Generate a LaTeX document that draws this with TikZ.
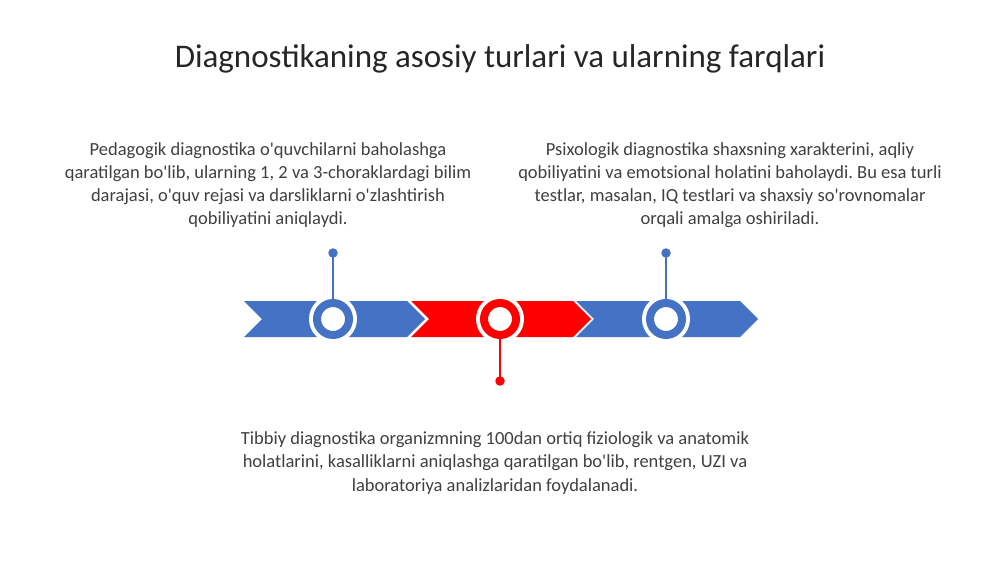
\documentclass[tikz,border=0pt]{standalone}
\usepackage{fontspec}
\setmainfont{Carlito}[Ligatures=TeXOff]
\frenchspacing
\definecolor{tlblue}{HTML}{4472C4}
\definecolor{tlred}{HTML}{FF0000}
\definecolor{txtgray}{HTML}{404040}
\definecolor{titlegray}{HTML}{262626}
\begin{document}
\begin{tikzpicture}[x=1pt,y=-1pt,
  body/.style={align=center, text=txtgray, inner sep=0pt, font=\fontsize{18.5}{23.2}\selectfont\frenchspacing},
  ringbase/.style={circle, fill=white, minimum size=48pt, inner sep=0pt},
  ring/.style={circle, draw=#1, line width=8pt, fill=white, minimum size=32pt, inner sep=0pt},
  dot/.style={circle, fill=#1, minimum size=9.5pt, inner sep=0pt},
  stem/.style={draw=#1, line width=2pt}
]
\useasboundingbox (0,0) rectangle (1000,562);
\fill[white] (0,0) rectangle (1000,562);

% title
\node[text=titlegray, inner sep=0pt, font=\fontsize{33}{40}\selectfont] (title) at (500,59) {Diagnostikaning asosiy turlari va ularning farqlari};

% texts
\node[body] (t1) at (268,185) {Pedagogik diagnostika o'quvchilarni baholashga\\qaratilgan bo'lib, ularning 1, 2 va 3-choraklardagi bilim\\darajasi, o'quv rejasi va darsliklarni o'zlashtirish\\qobiliyatini aniqlaydi.};
\node[body] (t2) at (730,185) {Psixologik diagnostika shaxsning xarakterini, aqliy\\qobiliyatini va emotsional holatini baholaydi. Bu esa turli\\testlar, masalan, IQ testlari va shaxsiy so'rovnomalar\\orqali amalga oshiriladi.};
\node[body] (t3) at (495,463) {Tibbiy diagnostika organizmning 100dan ortiq fiziologik va anatomik\\holatlarini, kasalliklarni aniqlashga qaratilgan bo'lib, rentgen, UZI va\\laboratoriya analizlaridan foydalanadi.};

% chevron band
\fill[tlblue] (244,301) -- (407,301) -- (425,319) -- (407,337) -- (244,337) -- (262,319) -- cycle;
\fill[tlred] (411,301) -- (573,301) -- (591,319) -- (573,337) -- (411,337) -- (429,319) -- cycle;
\fill[tlblue] (576,301) -- (740,301) -- (758,319) -- (740,337) -- (576,337) -- (594,319) -- cycle;

% dots
\node[dot=tlblue] (d1) at (333,253) {};
\node[dot=tlred] (d2) at (500,381) {};
\node[dot=tlblue] (d3) at (666,253) {};

% ring bases
\node[ringbase] (b1) at (333,319) {};
\node[ringbase] (b2) at (500,319) {};
\node[ringbase] (b3) at (666,319) {};

% stems
\draw[stem=tlblue] (d1.center) -- (b1.center);
\draw[stem=tlred] (d2.center) -- (b2.center);
\draw[stem=tlblue] (d3.center) -- (b3.center);

% rings
\node[ring=tlblue] (c1) at (b1) {};
\node[ring=tlred] (c2) at (b2) {};
\node[ring=tlblue] (c3) at (b3) {};
\end{tikzpicture}
\end{document}
